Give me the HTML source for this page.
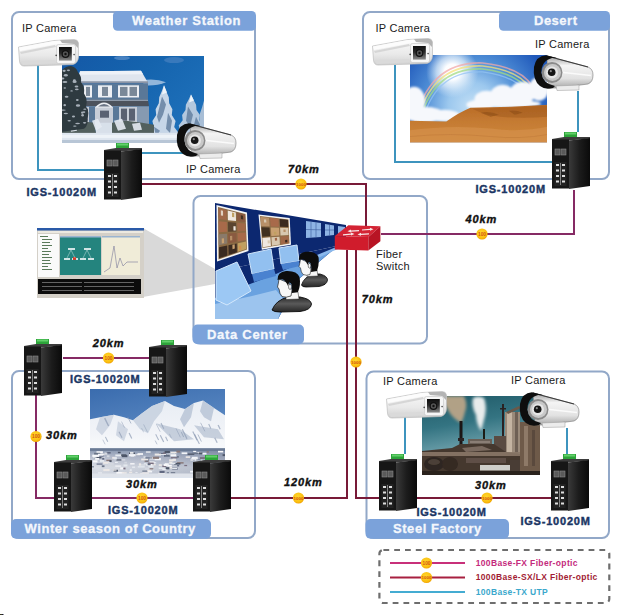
<!DOCTYPE html>
<html><head><meta charset="utf-8">
<style>
html,body{margin:0;padding:0;background:#fff;}
body{width:618px;height:615px;overflow:hidden;position:relative;}
svg{position:absolute;left:0;top:0;display:block;}
text{font-family:"Liberation Sans",sans-serif;}
.cam{font-size:11px;fill:#1a1a1a;letter-spacing:0.25px;}
.tab{font-size:13px;font-weight:bold;fill:#f4f7fc;stroke:#f4f7fc;stroke-width:0.3px;letter-spacing:0.7px;}
.igs{font-size:11px;font-weight:bold;fill:#1b3664;stroke:#1b3664;stroke-width:0.4px;letter-spacing:0.8px;}
.km{font-size:11px;font-weight:bold;font-style:italic;fill:#111;stroke:#111;stroke-width:0.35px;letter-spacing:0.9px;}
.lg{font-size:8.5px;font-weight:bold;letter-spacing:0.35px;}
</style></head><body>
<svg width="618" height="615" viewBox="0 0 618 615">
<defs>
  <linearGradient id="sideG" x1="0" y1="0" x2="1" y2="0">
    <stop offset="0" stop-color="#3a3a3a"/><stop offset="0.5" stop-color="#1c1c1c"/><stop offset="1" stop-color="#0a0a0a"/>
  </linearGradient>
  <linearGradient id="housG" x1="0" y1="0" x2="0" y2="1">
    <stop offset="0" stop-color="#fbfbfb"/><stop offset="0.6" stop-color="#e9e9e9"/><stop offset="1" stop-color="#d0d0d0"/>
  </linearGradient>
  <linearGradient id="bulG" x1="0" y1="0" x2="0" y2="1">
    <stop offset="0" stop-color="#9a9a9a"/><stop offset="0.3" stop-color="#f4f4f4"/><stop offset="0.7" stop-color="#e2e2e2"/><stop offset="1" stop-color="#a8a8a8"/>
  </linearGradient>
  <linearGradient id="suitG" x1="0" y1="0" x2="0" y2="1"><stop offset="0" stop-color="#2a2a2a"/><stop offset="0.45" stop-color="#5a5a5a"/><stop offset="1" stop-color="#262626"/></linearGradient>
  <radialGradient id="badgeG" cx="0.45" cy="0.4" r="0.6">
    <stop offset="0" stop-color="#ffd830"/><stop offset="0.75" stop-color="#fbc010"/><stop offset="1" stop-color="#f0a000"/>
  </radialGradient>

  <!-- industrial switch 38x58 -->
  <g id="sw">
    <rect x="12" y="0" width="13" height="6" fill="#2da43a"/>
    <rect x="13" y="0.5" width="11" height="2" fill="#62d06a"/>
    <polygon points="0,7 12,5 38,5 38,6.5 17,8.5 0,8" fill="#3c3c3c"/>
    <rect x="0" y="7.5" width="17" height="49" fill="#161616"/>
    <polygon points="17,8.5 38,6 38,54 17,57" fill="url(#sideG)"/>
    <rect x="3" y="17" width="5" height="6" fill="#5a5a5a" stroke="#8a8a8a" stroke-width="0.6"/>
    <rect x="9" y="17" width="5" height="6" fill="#5a5a5a" stroke="#8a8a8a" stroke-width="0.6"/>
    <rect x="2.5" y="30" width="12" height="24" fill="#222"/>
    <rect x="4" y="32" width="3" height="2" fill="#ddd"/><rect x="10" y="32" width="3" height="2" fill="#ddd"/>
    <rect x="4" y="37.5" width="3" height="2" fill="#ddd"/><rect x="10" y="37.5" width="3" height="2" fill="#ddd"/>
    <rect x="4" y="43" width="3" height="2" fill="#ddd"/><rect x="10" y="43" width="3" height="2" fill="#ddd"/>
    <rect x="4" y="48.5" width="3" height="2" fill="#ddd"/><rect x="10" y="48.5" width="3" height="2" fill="#ddd"/>
    <line x1="8.5" y1="31" x2="8.5" y2="53" stroke="#9a9a9a" stroke-width="0.8"/>
  </g>

  <!-- box camera 61x27 -->
  <linearGradient id="winG" x1="0" y1="0" x2="0" y2="1">
    <stop offset="0" stop-color="#0e0e0e"/><stop offset="0.45" stop-color="#2a2a2a"/><stop offset="1" stop-color="#8c8c8c"/>
  </linearGradient>
  <g id="boxcam">
    <path d="M0.5,8 L36,1.5 L56,0.5 Q60,0.5 60.5,4 L60.5,18 Q60,24 55,25.5 L42,26 L6,27 Q2,27 1.5,22 Z" fill="url(#housG)" stroke="#bdbdbd" stroke-width="0.7"/>
    <path d="M1,8.5 L36,2 L56,1 L58,4 L38,5 L2,12 Z" fill="#fcfcfc"/>
    <path d="M2,13 L37,6 L38,8 L3,15 Z" fill="#d6d6d6"/>
    <path d="M2,22 L37,21 L38,24 L5,26 Z" fill="#dadada"/>
    <path d="M42,1 L56,0.7 Q60,1 60.3,4 L60,9 L56,5 L44,4 Z" fill="#b4b4b4"/>
    <rect x="38.5" y="5.5" width="19" height="19" rx="2" fill="#f6f6f6" stroke="#c4c4c4" stroke-width="0.6"/>
    <rect x="41" y="8" width="12.8" height="13.6" fill="url(#winG)"/>
    <circle cx="47.5" cy="15" r="3.3" fill="#555" stroke="#111" stroke-width="1.2"/>
    <circle cx="47.5" cy="15" r="1.2" fill="#111"/>
    <circle cx="38.2" cy="16.4" r="0.8" fill="#444"/>
    <circle cx="56.1" cy="15.6" r="0.8" fill="#444"/>
  </g>

  <!-- bullet camera 60x36 -->
  <g id="bulcam">
    <path d="M14,1 L55,12 Q60,14 60,20 Q60,27 55,29 L24,33 L16,33 Z" fill="url(#bulG)" stroke="#777" stroke-width="0.6"/>
    <path d="M14,1 L55,12" stroke="#3a3a3a" stroke-width="1.1" fill="none"/>
    <path d="M26,17 L58,20.5" stroke="#fafafa" stroke-width="1.3" fill="none"/>
    <path d="M13,0.3 Q3,1 1,12 Q-0.5,25 7,31 Q12,35 20,33 L22,31 Q10,29 8.5,18 Q8,6 19,3 L24,3 Z" fill="#0e0e0e"/>
    <circle cx="19" cy="17.5" r="10.5" fill="#8a8a8a"/>
    <circle cx="19.5" cy="17.5" r="8.5" fill="#c8c8c8"/>
    <circle cx="19" cy="17.5" r="6" fill="#e6e6e6"/>
    <circle cx="18.7" cy="17.2" r="3.8" fill="#151515"/>
    <circle cx="17.8" cy="16.2" r="1.1" fill="#888"/>
    <path d="M23,31 L46,30 L46,35 L24,35.5 Z" fill="#ececec" stroke="#999" stroke-width="0.5"/>
  </g>

  <g id="b1000">
    <circle r="5.6" fill="url(#badgeG)"/>
    <text x="0" y="1.6" font-size="4.4" font-weight="bold" text-anchor="middle" fill="#d45410" font-family="Liberation Sans">1000</text>
  </g>
  <g id="b100">
    <circle r="5.6" fill="url(#badgeG)"/>
    <text x="0" y="1.7" font-size="4.8" font-weight="bold" text-anchor="middle" fill="#d45410" font-family="Liberation Sans">100</text>
  </g>
</defs>

<!-- zoom trapezoid -->
<polygon points="143,228 215,269 215,284 143,297" fill="#d9d9d9"/>
<!-- ============ BOXES ============ -->
<g fill="none" stroke="#92a8c8" stroke-width="2">
  <rect x="12" y="12" width="243" height="167" rx="7"/>
  <rect x="363" y="12" width="246" height="167" rx="7"/>
  <rect x="193.5" y="196" width="233.5" height="147.5" rx="7"/>
  <rect x="12" y="371" width="243" height="167" rx="7"/>
  <rect x="366.5" y="371.5" width="242.5" height="166.5" rx="7"/>
</g>

<!-- tabs -->
<g fill="#7ba2da">
  <rect x="113" y="11" width="143" height="19.7" rx="4.5"/>
  <rect x="499" y="11" width="111" height="19.7" rx="4.5"/>
  <rect x="192.5" y="324.5" width="111.5" height="19.8" rx="5"/>
  <rect x="11" y="519" width="200" height="19.8" rx="5"/>
  <rect x="365.5" y="519" width="143.5" height="19.8" rx="5"/>
</g>
<text class="tab" x="132" y="25.2">Weather Station</text>
<text class="tab" x="534" y="25.3" style="letter-spacing:0.5px">Desert</text>
<text class="tab" x="207" y="338.8">Data Center</text>
<text class="tab" x="24.6" y="532.8" style="letter-spacing:0.55px">Winter season of Country</text>
<text class="tab" x="393" y="533.4" style="letter-spacing:0.55px">Steel Factory</text>

<!-- ============ CABLES ============ -->
<g fill="none" stroke-width="2">
  <!-- UTP cyan -->
  <g stroke="#3d94be">
    <polyline points="38,65 38,170 104,170"/>
    <polyline points="142,153 193,153"/>
    <polyline points="395,65 395,162 552,162"/>
    <polyline points="578,91 578,132"/>
    <polyline points="405,417 405,454"/>
    <polyline points="567,428 567,455"/>
  </g>
  <!-- 1000Base maroon -->
  <g stroke="#781a38">
    <polyline points="142,184 366,184 366,226"/>
    <polyline points="347,250 347,498 231,498"/>
    <polyline points="356,250 356,498 380,498"/>
    <polyline points="416,498 551,498"/>
  </g>
  <!-- 100Base-FX magenta -->
  <g stroke="#862a64">
    <polyline points="574,190 574,234 381,234"/>
    <polyline points="63,358 149,358"/>
    <polyline points="36,395 36,498 54,498"/>
    <polyline points="92,498 193,498"/>
  </g>
</g>

<!-- ============ PHOTOS ============ -->
<!-- Weather station photo 142x86 -->
<svg x="62" y="56" width="142" height="87" viewBox="0 0 142 86" preserveAspectRatio="none">
  <defs>
    <linearGradient id="wsSky" x1="0" y1="0" x2="1" y2="0.6">
      <stop offset="0" stop-color="#1458a6"/><stop offset="0.5" stop-color="#1564ae"/><stop offset="1" stop-color="#1e70ba"/>
    </linearGradient>
    <linearGradient id="treeG" x1="0" y1="0" x2="0" y2="1">
      <stop offset="0" stop-color="#d2e0ee"/><stop offset="1" stop-color="#9fb6cf"/>
    </linearGradient>
  </defs>
  <rect width="142" height="86" fill="url(#wsSky)"/>
  <ellipse cx="60" cy="2" rx="8" ry="2" fill="#6a9ad0" opacity="0.6"/>
  <ellipse cx="112" cy="4" rx="10" ry="3" fill="#5a8cc8" opacity="0.5"/>
  <!-- right snowy trees -->
  <polygon points="129.0,38.0 131.3,43.1 134.1,48.2 134.5,53.3 137.9,58.4 137.3,63.6 141.3,68.7 139.8,73.8 144.5,78.9 142.3,84.0 115.7,84.0 113.5,78.9 118.2,73.8 116.7,68.7 120.7,63.6 120.1,58.4 123.5,53.3 123.9,48.2 126.7,43.1" fill="#b4c8de"/>
  <polygon points="142.0,44.0 143.9,50.7 146.2,57.3 146.5,64.0 149.2,70.7 148.7,77.3 152.0,84.0 132.0,84.0 135.3,77.3 134.8,70.7 137.5,64.0 137.8,57.3 140.1,50.7" fill="#a8bed6"/>
  <polygon points="102.0,29.0 104.2,34.9 106.8,40.8 107.2,46.7 110.4,52.6 109.8,58.4 113.6,64.3 112.2,70.2 116.6,76.1 114.5,82.0 89.5,82.0 87.4,76.1 91.8,70.2 90.4,64.3 94.2,58.4 93.6,52.6 96.8,46.7 97.2,40.8 99.8,34.9" fill="#c6d6e8"/>
  <path d="M100,40 L104,48 L101,58 L97,66 L95,60 Z M106,56 L110,64 L108,76 L104,72 Z M126,50 L131,58 L128,70 L124,64 Z M134,60 L138,68 L135,78 L131,72 Z M92,70 L98,74 L94,80 Z" fill="#5f7c9c" opacity="0.8"/>
  <path d="M102,29 L105,36 L100,38 Z M129,38 L132,44 L127,46 Z" fill="#eef4fa"/>
  <rect x="86" y="76" width="56" height="10" fill="#c8d6e6"/>
  <!-- blowing snow -->
  <path d="M80,24 Q94,22 104,26 Q94,30 82,29 Z" fill="#a8c4e2" opacity="0.85"/>
  <!-- roof -->
  <polygon points="18,15 79,14.5 86,26.5 15,27" fill="#dfe5ee"/>
  <polygon points="18,15 79,14.5 81,18 17,18.5" fill="#eef2f8"/>
  <polygon points="15,25 86,25 86,27 15,27" fill="#8a94a6"/>
  <!-- upper siding -->
  <rect x="16" y="27" width="70" height="16" fill="#5a7898"/>
  <g fill="#eef0f4">
    <rect x="22" y="29" width="8" height="12"/>
    <rect x="36" y="29" width="14" height="12"/>
    <rect x="56" y="29" width="21" height="12"/>
  </g>
  <g fill="#7a8898">
    <rect x="40" y="30.5" width="6" height="9"/>
    <rect x="58" y="30.5" width="7.5" height="9"/>
    <rect x="67.5" y="30.5" width="7.5" height="9"/>
    <rect x="24" y="30.5" width="4" height="9"/>
  </g>
  <!-- porch band -->
  <polygon points="14,43 86,43 87,50 13,50" fill="#4c525c"/>
  <polygon points="14,43 86,43 86,44.5 14,44.5" fill="#8e9aaa"/>
  <!-- lower floor -->
  <rect x="13" y="50" width="74" height="18" fill="#c8ced8"/>
  <rect x="27" y="50" width="6" height="18" fill="#5a7898"/>
  <rect x="51" y="50" width="6" height="18" fill="#5a7898"/>
  <rect x="75" y="50" width="12" height="18" fill="#5a7898" opacity="0.6"/>
  <g fill="#5a6272">
    <rect x="13" y="52" width="6" height="12"/><rect x="20" y="52" width="6" height="12"/>
    <rect x="59" y="52" width="6" height="12"/><rect x="67" y="52" width="6" height="12"/>
    <rect x="38" y="54" width="9" height="7"/>
  </g>
  <path d="M33,51 Q42,41 51,51 Z" fill="#eef0f4"/>
  <path d="M36,50 Q42,45 48,50 Z" fill="#6a7484"/>
  <!-- bushes -->
  <path d="M0,66 L14,64 L33,66 L34,76 L0,77 Z M50,66 L64,64 L80,66 L92,68 L92,76 L50,76 Z" fill="#52605e"/>
  <path d="M33,66 L50,66 L50,76 L34,76 Z" fill="#d8e0ea"/>
  <path d="M30,64 L36,62 L40,70 L34,74 Z M52,64 L60,62 L64,72 L56,74 Z M70,67 L78,66 L80,73 L72,74 Z M8,70 L14,69 L15,74 L9,75 Z" fill="#e4eaf2" opacity="0.9"/>
  <!-- left dark tree -->
  <path d="M0,14 Q4,10 9,10 Q14,11 16,16 Q20,20 19,26 Q23,30 22,37 Q26,43 24,50 Q28,56 25,62 Q27,68 22,72 L0,75 Z" fill="#2e3a40"/>
  <g fill="#c4ccd6" opacity="0.8"><ellipse cx="16.0" cy="48.9" rx="2.2" ry="1.2"/><ellipse cx="22.0" cy="55.4" rx="1.3" ry="0.9"/><ellipse cx="15.6" cy="66.8" rx="2.4" ry="0.7"/><ellipse cx="4.6" cy="40.3" rx="1.9" ry="0.9"/><ellipse cx="2.1" cy="14.7" rx="1.6" ry="1.1"/><ellipse cx="3.8" cy="56.9" rx="2.2" ry="0.7"/><ellipse cx="2.7" cy="48.6" rx="1.3" ry="1.1"/><ellipse cx="2.9" cy="25.7" rx="2.5" ry="1.1"/><ellipse cx="14.5" cy="30.2" rx="1.9" ry="1.0"/><ellipse cx="12.6" cy="25.5" rx="2.1" ry="1.2"/><ellipse cx="7.2" cy="64.0" rx="1.7" ry="0.7"/><ellipse cx="0.8" cy="22.2" rx="1.6" ry="1.0"/><ellipse cx="6.4" cy="14.2" rx="1.7" ry="0.8"/><ellipse cx="11.5" cy="59.8" rx="1.6" ry="0.9"/><ellipse cx="1.3" cy="53.5" rx="2.5" ry="0.6"/><ellipse cx="20.3" cy="56.0" rx="1.3" ry="1.1"/><ellipse cx="9.6" cy="34.5" rx="1.3" ry="0.6"/><ellipse cx="12.4" cy="24.1" rx="1.5" ry="1.1"/><ellipse cx="22.6" cy="66.1" rx="1.7" ry="0.8"/><ellipse cx="15.3" cy="43.4" rx="1.4" ry="1.0"/><ellipse cx="20.6" cy="58.6" rx="1.3" ry="1.2"/><ellipse cx="3.8" cy="19.1" rx="2.0" ry="1.2"/><ellipse cx="14.8" cy="33.0" rx="1.9" ry="0.8"/><ellipse cx="2.8" cy="31.7" rx="1.3" ry="0.7"/><ellipse cx="22.8" cy="52.6" rx="1.5" ry="0.6"/><ellipse cx="12.8" cy="69.3" rx="1.8" ry="0.7"/></g>
  <!-- ground snow -->
  <rect x="0" y="76" width="142" height="10" fill="#dfe7f0"/>
  <rect x="0" y="78" width="142" height="3" fill="#eef3f8"/>
  <rect x="0" y="83" width="142" height="3" fill="#b8c6d6"/>
</svg>

<!-- Desert photo 136x88 -->
<svg x="410" y="55" width="137" height="87.5" viewBox="0 0 136 88" preserveAspectRatio="none">
  <defs>
    <radialGradient id="dSkyR" cx="62" cy="52" r="80" gradientUnits="userSpaceOnUse">
      <stop offset="0" stop-color="#c4e0f6"/><stop offset="0.3" stop-color="#9cc8ee"/><stop offset="0.6" stop-color="#4f8ed6"/><stop offset="1" stop-color="#1f58ba"/>
    </radialGradient>
    <radialGradient id="dSun" cx="0.5" cy="0.5" r="0.5">
      <stop offset="0" stop-color="#ffffff"/><stop offset="0.3" stop-color="#fcfdff"/><stop offset="0.6" stop-color="#e0eefa" stop-opacity="0.75"/><stop offset="1" stop-color="#cfe2f6" stop-opacity="0"/>
    </radialGradient>
    <linearGradient id="dSand" x1="0" y1="0" x2="0" y2="1">
      <stop offset="0" stop-color="#b86a26"/><stop offset="0.4" stop-color="#c47a32"/><stop offset="1" stop-color="#d08a3e"/>
    </linearGradient>
    <filter id="dblur" x="-20%" y="-20%" width="140%" height="140%"><feGaussianBlur stdDeviation="1.2"/></filter>
    <filter id="dblur2" x="-20%" y="-20%" width="140%" height="140%"><feGaussianBlur stdDeviation="0.7"/></filter>
  </defs>
  <rect width="136" height="88" fill="url(#dSkyR)"/>
  <circle cx="42" cy="17" r="26" fill="url(#dSun)"/>
  <g filter="url(#dblur2)" opacity="0.75">
    <path d="M4,70 Q18,6 72,8 Q110,12 122,32" fill="none" stroke="#f2a8a8" stroke-width="1.6"/>
    <path d="M6.5,70 Q20,9 72,11 Q108,15 120,34" fill="none" stroke="#f4e27a" stroke-width="1.6"/>
    <path d="M9,70 Q22,12 72,14 Q106,18 118,36" fill="none" stroke="#a4dc84" stroke-width="1.6"/>
    <path d="M11.5,70 Q24,15 72,17 Q104,21 116,38" fill="none" stroke="#94c4f4" stroke-width="1.4"/>
  </g>
  <!-- clouds -->
  <g fill="#f6f8fc" filter="url(#dblur)">
    <ellipse cx="4" cy="46" rx="11" ry="14"/>
    <ellipse cx="14" cy="60" rx="20" ry="8"/>
    <ellipse cx="34" cy="61" rx="16" ry="6"/>
    <ellipse cx="76" cy="44" rx="12" ry="8"/>
    <ellipse cx="92" cy="40" rx="12" ry="10"/>
    <ellipse cx="112" cy="38" rx="13" ry="11"/>
    <ellipse cx="128" cy="34" rx="10" ry="12"/>
    <ellipse cx="70" cy="50" rx="14" ry="5"/>
    <ellipse cx="100" cy="49" rx="30" ry="4"/>
  </g>
  <!-- sand -->
  <g filter="url(#dblur2)">
  <path d="M-2,66 L36,67 Q48,58 60,53 L100,52 L138,50 L138,90 L-2,90 Z" fill="url(#dSand)"/>
  <path d="M62,54 L100,53 L136,51 L136,62 Q110,64 90,62 Q72,60 62,54 Z" fill="#a05a1e" opacity="0.5"/>
  <path d="M70,58 Q80,56 88,60 L80,62 Z M98,56 Q106,55 112,58 L104,60 Z" fill="#8a4c18" opacity="0.55"/>
  <path d="M-2,76 Q40,70 80,74 Q110,78 138,72 L138,90 L-2,90 Z" fill="#d4904a" opacity="0.7"/>
  <path d="M0,82 Q40,78 80,82 Q110,85 136,80" fill="none" stroke="#b87434" stroke-width="0.8" opacity="0.5"/>
  </g>
</svg>

<!-- Winter mountain photo 135x88 -->
<svg x="90" y="389" width="135" height="88.5" viewBox="0 0 135 88" preserveAspectRatio="none">
  <defs>
    <linearGradient id="mSky" x1="0" y1="0" x2="0.3" y2="1">
      <stop offset="0" stop-color="#3a6cae"/><stop offset="0.6" stop-color="#5a88c2"/><stop offset="1" stop-color="#86a6d0"/>
    </linearGradient>
    <linearGradient id="mTown" x1="0" y1="0" x2="0" y2="1">
      <stop offset="0" stop-color="#8494ae"/><stop offset="0.3" stop-color="#b8bece"/><stop offset="0.65" stop-color="#dcdfe6"/><stop offset="1" stop-color="#ccd2dc"/>
    </linearGradient>
    <linearGradient id="mSnow" x1="0" y1="0" x2="0" y2="1">
      <stop offset="0" stop-color="#e8edf4"/><stop offset="0.7" stop-color="#f2f4f8"/><stop offset="1" stop-color="#fafbfc"/>
    </linearGradient>
    <linearGradient id="mTownH" x1="0" y1="0" x2="1" y2="0"><stop offset="0" stop-color="#5a6a88" stop-opacity="0"/><stop offset="1" stop-color="#4a5a7a" stop-opacity="0.3"/></linearGradient>
    <filter id="mblur" x="-5%" y="-5%" width="110%" height="110%"><feGaussianBlur stdDeviation="0.5"/></filter>
  </defs>
  <rect width="135" height="88" fill="url(#mSky)"/>
  <g filter="url(#mblur)">
  <path d="M0,30 L10,28 L24,25.5 L34,28 L43,31 L52,24 L62,17 L75,12 L84,17 L95,20 L104,14 L113,11.5 L124,19 L135,26 L135,60 L0,60 Z" fill="url(#mSnow)"/>
  <path d="M43,31 L52,24 L62,17 L75,12 L72,22 L64,32 L58,44 L50,40 Z" fill="#c6d0de" opacity="0.85"/>
  <path d="M95,20 L104,14 L101,28 L94,38 L90,30 Z M113,11.5 L124,19 L121,32 L114,28 L110,22 Z" fill="#b8c4d6" opacity="0.85"/>
  <path d="M10,28 L24,25.5 L20,36 L12,46 L6,40 Z M28,32 L38,40 L34,52 L26,46 Z" fill="#c4cedc" opacity="0.75"/>
  <path d="M66,34 L90,40 L104,50 L84,52 Z M104,36 L128,40 L134,50 L114,48 Z" fill="#a8b6ca" opacity="0.6"/>
  <path d="M79.4,44.6 l2.1,4.3" stroke="#8e9cb4" stroke-width="0.7" opacity="0.7"/><path d="M37.9,28.1 l3.1,6.2" stroke="#8e9cb4" stroke-width="0.9" opacity="0.7"/><path d="M128.1,35.8 l2.1,4.2" stroke="#8e9cb4" stroke-width="1.3" opacity="0.7"/><path d="M31.5,32.4 l3.0,6.0" stroke="#8e9cb4" stroke-width="0.7" opacity="0.7"/><path d="M39.1,43.7 l2.7,5.5" stroke="#8e9cb4" stroke-width="1.2" opacity="0.7"/><path d="M15.4,47.6 l2.4,4.9" stroke="#8e9cb4" stroke-width="1.1" opacity="0.7"/><path d="M53.6,35.2 l3.9,7.8" stroke="#8e9cb4" stroke-width="0.7" opacity="0.7"/><path d="M124.7,48.5 l2.5,4.9" stroke="#8e9cb4" stroke-width="1.3" opacity="0.7"/><path d="M102.8,42.3 l4.3,8.6" stroke="#8e9cb4" stroke-width="1.2" opacity="0.7"/><path d="M66.3,34.8 l3.9,7.7" stroke="#8e9cb4" stroke-width="0.7" opacity="0.7"/><path d="M107.9,45.2 l3.5,7.1" stroke="#8e9cb4" stroke-width="0.9" opacity="0.7"/><path d="M92.3,40.1 l4.7,9.5" stroke="#8e9cb4" stroke-width="1.2" opacity="0.7"/><path d="M75.6,47.5 l2.0,4.1" stroke="#8e9cb4" stroke-width="1.1" opacity="0.7"/><path d="M104.5,45.1 l4.9,9.7" stroke="#8e9cb4" stroke-width="1.1" opacity="0.7"/><path d="M14.7,29.0 l3.9,7.8" stroke="#8e9cb4" stroke-width="1.4" opacity="0.7"/><path d="M51.5,38.8 l2.2,4.3" stroke="#8e9cb4" stroke-width="0.6" opacity="0.7"/><path d="M71.0,33.9 l2.8,5.6" stroke="#8e9cb4" stroke-width="1.0" opacity="0.7"/><path d="M12.8,50.4 l4.7,9.4" stroke="#8e9cb4" stroke-width="0.7" opacity="0.7"/><path d="M70.3,45.9 l3.4,6.8" stroke="#8e9cb4" stroke-width="1.2" opacity="0.7"/><path d="M110.6,33.6 l4.3,8.5" stroke="#8e9cb4" stroke-width="0.8" opacity="0.7"/><path d="M85.9,39.0 l4.5,9.1" stroke="#8e9cb4" stroke-width="0.7" opacity="0.7"/><path d="M118.7,34.9 l2.1,4.3" stroke="#8e9cb4" stroke-width="1.1" opacity="0.7"/><path d="M29.0,42.4 l3.0,6.0" stroke="#8e9cb4" stroke-width="1.1" opacity="0.7"/><path d="M91.3,42.9 l2.4,4.8" stroke="#8e9cb4" stroke-width="1.0" opacity="0.7"/><path d="M65.2,51.3 l2.3,4.6" stroke="#8e9cb4" stroke-width="0.8" opacity="0.7"/><path d="M65.7,45.0 l2.9,5.7" stroke="#8e9cb4" stroke-width="1.0" opacity="0.7"/>
  <rect x="0" y="55" width="135" height="5" fill="#f6f8fb"/>
  <rect x="0" y="59" width="135" height="29" fill="url(#mTown)"/>
  <rect x="0" y="59" width="135" height="2.5" fill="#6a7a94"/>
  <rect x="0" y="61" width="135" height="25" fill="url(#mTownH)"/>
  <rect x="59.1" y="74.4" width="6.6" height="1.6" fill="#ece8e6"/><rect x="23.6" y="80.3" width="4.4" height="1.8" fill="#4e5668"/><rect x="39.0" y="63.2" width="6.0" height="1.9" fill="#4e5668"/><rect x="128.2" y="76.7" width="5.1" height="1.2" fill="#8a7a7a"/><rect x="6.5" y="61.9" width="6.4" height="1.8" fill="#f8f8fa"/><rect x="57.5" y="81.2" width="4.6" height="1.8" fill="#f2f4f8"/><rect x="59.7" y="67.7" width="7.0" height="2.3" fill="#f8f8fa"/><rect x="40.6" y="66.5" width="3.4" height="1.1" fill="#d4d8e0"/><rect x="12.6" y="68.0" width="2.3" height="1.0" fill="#e4e8ee"/><rect x="26.3" y="82.8" width="4.3" height="2.3" fill="#f2f4f8"/><rect x="74.4" y="65.8" width="5.4" height="1.4" fill="#5e6a80"/><rect x="128.2" y="79.2" width="2.6" height="1.3" fill="#5e6a80"/><rect x="60.8" y="72.7" width="5.4" height="1.2" fill="#e4e8ee"/><rect x="54.6" y="70.2" width="4.0" height="2.3" fill="#8a7a7a"/><rect x="39.1" y="82.2" width="3.1" height="1.5" fill="#ece8e6"/><rect x="11.5" y="84.7" width="3.1" height="1.3" fill="#f8f8fa"/><rect x="110.1" y="70.3" width="2.4" height="1.3" fill="#f2f4f8"/><rect x="79.2" y="69.9" width="4.3" height="2.2" fill="#ece8e6"/><rect x="16.3" y="70.3" width="5.1" height="1.4" fill="#8a7a7a"/><rect x="31.7" y="65.6" width="5.7" height="2.2" fill="#4e5668"/><rect x="117.1" y="75.5" width="4.1" height="1.1" fill="#7a7080"/><rect x="30.2" y="77.9" width="3.3" height="2.1" fill="#f8f8fa"/><rect x="68.2" y="83.3" width="6.9" height="1.2" fill="#ece8e6"/><rect x="80.9" y="67.7" width="6.6" height="1.3" fill="#7a7080"/><rect x="53.5" y="67.0" width="2.2" height="1.4" fill="#e4e8ee"/><rect x="10.4" y="64.3" width="4.3" height="1.4" fill="#ece8e6"/><rect x="76.9" y="64.4" width="2.2" height="1.0" fill="#f8f8fa"/><rect x="128.0" y="61.5" width="5.2" height="1.6" fill="#f8f8fa"/><rect x="16.4" y="62.7" width="4.3" height="1.5" fill="#606880"/><rect x="97.5" y="64.1" width="6.8" height="1.4" fill="#4e5668"/><rect x="119.6" y="81.9" width="4.1" height="2.0" fill="#ece8e6"/><rect x="-0.0" y="76.9" width="3.9" height="1.0" fill="#5e6a80"/><rect x="84.3" y="84.8" width="6.4" height="1.9" fill="#ece8e6"/><rect x="59.8" y="72.1" width="4.7" height="1.7" fill="#f8f8fa"/><rect x="79.2" y="72.5" width="3.2" height="1.9" fill="#ece8e6"/><rect x="87.1" y="72.7" width="6.5" height="1.5" fill="#8a7a7a"/><rect x="25.3" y="65.1" width="6.5" height="1.9" fill="#e4e8ee"/><rect x="42.1" y="77.0" width="3.0" height="1.6" fill="#e4e8ee"/><rect x="116.8" y="70.2" width="4.9" height="1.4" fill="#4e5668"/><rect x="45.4" y="82.5" width="2.2" height="1.1" fill="#e4e8ee"/><rect x="13.2" y="72.3" width="6.6" height="2.1" fill="#ece8e6"/><rect x="64.7" y="68.6" width="6.2" height="2.3" fill="#f2f4f8"/><rect x="109.9" y="67.7" width="5.0" height="1.9" fill="#7a7080"/><rect x="39.7" y="80.0" width="2.1" height="1.2" fill="#f2f4f8"/><rect x="101.8" y="67.4" width="5.9" height="2.0" fill="#f2f4f8"/><rect x="58.3" y="76.1" width="5.3" height="2.0" fill="#e4e8ee"/><rect x="24.9" y="72.4" width="2.9" height="1.0" fill="#f2f4f8"/><rect x="22.2" y="67.5" width="3.7" height="1.9" fill="#ece8e6"/><rect x="132.6" y="64.8" width="6.2" height="1.9" fill="#4e5668"/><rect x="123.9" y="78.3" width="2.6" height="1.6" fill="#f2f4f8"/><rect x="48.9" y="74.7" width="6.4" height="2.0" fill="#d4d8e0"/><rect x="42.1" y="84.6" width="2.5" height="2.1" fill="#f2f4f8"/><rect x="26.8" y="82.6" width="6.9" height="2.3" fill="#f8f8fa"/><rect x="33.4" y="78.2" width="2.1" height="1.7" fill="#7a7080"/><rect x="72.3" y="79.4" width="4.4" height="1.0" fill="#f2f4f8"/><rect x="55.9" y="61.8" width="4.7" height="1.9" fill="#d4d8e0"/><rect x="18.1" y="73.4" width="5.6" height="2.1" fill="#d4d8e0"/><rect x="76.2" y="77.5" width="5.8" height="1.6" fill="#ece8e6"/><rect x="84.2" y="73.5" width="6.2" height="1.7" fill="#4e5668"/><rect x="126.9" y="81.9" width="5.0" height="1.4" fill="#8a7a7a"/><rect x="68.8" y="74.8" width="3.0" height="1.7" fill="#ece8e6"/><rect x="48.9" y="73.9" width="2.2" height="2.2" fill="#ece8e6"/><rect x="14.5" y="63.2" width="2.8" height="2.2" fill="#d4d8e0"/><rect x="34.3" y="72.4" width="2.6" height="1.6" fill="#d4d8e0"/><rect x="68.9" y="63.6" width="4.1" height="1.0" fill="#606880"/><rect x="103.2" y="61.5" width="3.0" height="1.3" fill="#f8f8fa"/><rect x="95.7" y="66.9" width="4.5" height="1.6" fill="#ece8e6"/><rect x="82.2" y="78.2" width="5.5" height="2.1" fill="#606880"/><rect x="53.8" y="73.7" width="2.8" height="1.3" fill="#e4e8ee"/><rect x="69.5" y="81.4" width="5.1" height="2.1" fill="#606880"/><rect x="82.8" y="69.3" width="2.9" height="1.8" fill="#e4e8ee"/><rect x="27.4" y="85.0" width="6.4" height="1.2" fill="#606880"/><rect x="9.9" y="70.3" width="4.2" height="2.2" fill="#e4e8ee"/><rect x="25.1" y="76.1" width="6.0" height="1.1" fill="#f8f8fa"/><rect x="121.0" y="84.2" width="2.6" height="1.7" fill="#ece8e6"/><rect x="132.8" y="81.0" width="6.0" height="1.6" fill="#8a7a7a"/><rect x="80.8" y="82.7" width="4.4" height="1.2" fill="#6a7488"/><rect x="111.4" y="84.8" width="6.6" height="1.1" fill="#606880"/><rect x="60.4" y="79.4" width="3.6" height="1.6" fill="#d4d8e0"/><rect x="26.4" y="70.0" width="5.2" height="1.1" fill="#4e5668"/><rect x="59.3" y="78.7" width="4.0" height="1.3" fill="#8a7a7a"/><rect x="105.0" y="68.8" width="2.4" height="2.1" fill="#d4d8e0"/><rect x="74.9" y="65.6" width="4.9" height="1.4" fill="#f8f8fa"/><rect x="121.0" y="78.9" width="5.9" height="2.1" fill="#7a7080"/><rect x="116.8" y="77.7" width="5.8" height="2.0" fill="#606880"/><rect x="23.0" y="80.1" width="3.5" height="1.1" fill="#ece8e6"/><rect x="4.7" y="67.6" width="6.8" height="1.4" fill="#4e5668"/><rect x="74.9" y="73.8" width="3.9" height="2.3" fill="#f2f4f8"/><rect x="100.8" y="84.5" width="2.1" height="1.8" fill="#f8f8fa"/><rect x="57.9" y="73.1" width="5.8" height="1.8" fill="#7a7080"/><rect x="31.9" y="82.7" width="4.8" height="1.7" fill="#ece8e6"/><rect x="112.3" y="63.4" width="4.2" height="1.8" fill="#f2f4f8"/><rect x="50.2" y="83.5" width="3.9" height="2.3" fill="#ece8e6"/><rect x="80.5" y="62.4" width="6.7" height="1.5" fill="#ece8e6"/><rect x="40.2" y="73.7" width="4.4" height="1.4" fill="#f8f8fa"/><rect x="1.6" y="79.5" width="4.9" height="1.8" fill="#d4d8e0"/><rect x="5.1" y="68.6" width="4.0" height="1.8" fill="#f8f8fa"/><rect x="7.9" y="82.7" width="4.1" height="1.6" fill="#e4e8ee"/><rect x="4.1" y="63.4" width="6.1" height="2.2" fill="#6a7488"/><rect x="79.5" y="63.8" width="5.1" height="1.6" fill="#5e6a80"/><rect x="46.2" y="64.7" width="3.8" height="1.2" fill="#ece8e6"/><rect x="33.4" y="75.0" width="4.1" height="2.0" fill="#e4e8ee"/><rect x="126.6" y="78.6" width="3.2" height="1.1" fill="#ece8e6"/><rect x="82.4" y="69.6" width="3.4" height="1.9" fill="#ece8e6"/><rect x="23.7" y="67.7" width="3.2" height="2.2" fill="#e4e8ee"/><rect x="116.6" y="61.9" width="2.3" height="1.4" fill="#8a7a7a"/><rect x="3.1" y="66.3" width="3.4" height="2.0" fill="#e4e8ee"/><rect x="72.3" y="76.1" width="3.9" height="1.6" fill="#7a7080"/><rect x="64.7" y="64.2" width="6.3" height="2.0" fill="#ece8e6"/><rect x="111.1" y="79.5" width="4.2" height="2.0" fill="#6a7488"/><rect x="47.8" y="76.7" width="6.9" height="1.4" fill="#e4e8ee"/><rect x="55.7" y="69.9" width="2.5" height="2.1" fill="#5e6a80"/><rect x="56.3" y="74.6" width="6.1" height="1.6" fill="#f2f4f8"/><rect x="8.3" y="66.1" width="5.3" height="1.1" fill="#606880"/><rect x="101.2" y="68.9" width="6.4" height="1.3" fill="#f8f8fa"/><rect x="47.5" y="63.8" width="5.5" height="1.7" fill="#f8f8fa"/><rect x="57.1" y="80.3" width="3.5" height="1.4" fill="#ece8e6"/><rect x="31.5" y="69.7" width="3.8" height="1.5" fill="#d4d8e0"/><rect x="105.5" y="78.7" width="3.8" height="1.5" fill="#8a7a7a"/><rect x="74.0" y="65.2" width="5.8" height="2.1" fill="#5e6a80"/><rect x="27.9" y="62.4" width="2.8" height="1.4" fill="#4e5668"/><rect x="6.6" y="74.1" width="5.9" height="1.1" fill="#606880"/><rect x="12.2" y="68.5" width="2.1" height="1.8" fill="#606880"/><rect x="55.0" y="78.1" width="4.4" height="2.2" fill="#d4d8e0"/><rect x="51.2" y="69.1" width="6.8" height="1.9" fill="#ece8e6"/><rect x="106.6" y="62.7" width="5.1" height="1.1" fill="#f8f8fa"/><rect x="113.2" y="80.3" width="6.2" height="2.2" fill="#f2f4f8"/><rect x="68.7" y="78.0" width="6.0" height="1.5" fill="#e4e8ee"/><rect x="31.2" y="64.9" width="5.2" height="1.9" fill="#4e5668"/><rect x="55.4" y="68.0" width="6.8" height="1.1" fill="#5e6a80"/><rect x="39.0" y="64.7" width="6.6" height="2.2" fill="#f2f4f8"/><rect x="76.8" y="82.8" width="2.2" height="1.1" fill="#6a7488"/><rect x="77.4" y="75.4" width="4.4" height="1.7" fill="#f8f8fa"/><rect x="52.3" y="82.9" width="6.7" height="1.8" fill="#ece8e6"/><rect x="62.7" y="67.3" width="6.4" height="2.2" fill="#8a7a7a"/><rect x="102.2" y="63.2" width="6.3" height="1.5" fill="#6a7488"/><rect x="106.2" y="70.2" width="4.6" height="1.7" fill="#5e6a80"/><rect x="86.8" y="66.7" width="2.1" height="1.6" fill="#6a7488"/><rect x="94.3" y="75.5" width="2.8" height="1.2" fill="#7a7080"/><rect x="120.6" y="80.4" width="2.7" height="2.0" fill="#ece8e6"/><rect x="70.2" y="64.6" width="5.9" height="1.0" fill="#e4e8ee"/><rect x="109.0" y="63.0" width="3.3" height="1.9" fill="#4e5668"/><rect x="91.6" y="63.0" width="5.7" height="1.7" fill="#f2f4f8"/><rect x="104.6" y="71.0" width="6.6" height="1.1" fill="#e4e8ee"/><rect x="3.0" y="70.9" width="4.5" height="2.2" fill="#f8f8fa"/><rect x="40.0" y="62.8" width="3.5" height="1.6" fill="#f8f8fa"/><rect x="8.0" y="64.4" width="5.3" height="1.9" fill="#f2f4f8"/><rect x="86.3" y="61.3" width="3.9" height="1.9" fill="#8a7a7a"/><rect x="13.3" y="79.5" width="6.3" height="2.1" fill="#ece8e6"/><rect x="18.5" y="76.1" width="6.7" height="2.0" fill="#d4d8e0"/><rect x="73.0" y="63.1" width="2.9" height="1.5" fill="#7a7080"/><rect x="125.6" y="74.5" width="5.6" height="1.4" fill="#f2f4f8"/><rect x="11.8" y="75.9" width="2.7" height="1.8" fill="#6a7488"/><rect x="52.3" y="81.1" width="5.0" height="1.1" fill="#6a7488"/><rect x="131.3" y="71.4" width="5.9" height="1.4" fill="#ece8e6"/><rect x="16.8" y="65.9" width="2.7" height="1.9" fill="#d4d8e0"/><rect x="82.1" y="78.4" width="5.1" height="1.4" fill="#e4e8ee"/><rect x="87.1" y="75.6" width="2.1" height="1.4" fill="#606880"/><rect x="57.6" y="74.4" width="3.0" height="1.4" fill="#5e6a80"/><rect x="80.5" y="64.8" width="5.8" height="2.2" fill="#f8f8fa"/><rect x="80.6" y="73.3" width="4.9" height="1.3" fill="#e4e8ee"/><rect x="74.6" y="61.6" width="5.3" height="2.0" fill="#4e5668"/><rect x="75.8" y="77.7" width="3.6" height="2.2" fill="#4e5668"/><rect x="117.2" y="71.9" width="5.6" height="1.3" fill="#ece8e6"/><rect x="73.7" y="74.4" width="3.3" height="2.2" fill="#f8f8fa"/><rect x="79.2" y="63.9" width="6.1" height="1.4" fill="#e4e8ee"/><rect x="100.4" y="69.7" width="2.8" height="1.8" fill="#d4d8e0"/><rect x="2.3" y="65.3" width="6.9" height="2.2" fill="#f8f8fa"/><rect x="100.1" y="81.3" width="6.5" height="1.8" fill="#f2f4f8"/><rect x="19.4" y="70.9" width="2.2" height="1.7" fill="#4e5668"/>
  <rect x="0" y="84" width="135" height="4" fill="#dfe3ea"/>
  </g>
</svg>

<!-- Steel factory photo 118x79 -->
<svg x="422" y="396" width="118" height="79" viewBox="0 0 118 79">
  <defs>
    <linearGradient id="fSky" x1="0" y1="0" x2="0.25" y2="1">
      <stop offset="0" stop-color="#1e5866"/><stop offset="0.4" stop-color="#347482"/><stop offset="0.75" stop-color="#72a4ae"/><stop offset="1" stop-color="#94bcc2"/>
    </linearGradient>
    <filter id="blur1" x="-30%" y="-30%" width="160%" height="160%"><feGaussianBlur stdDeviation="1.6"/></filter>
    <filter id="blur05" x="-10%" y="-10%" width="120%" height="120%"><feGaussianBlur stdDeviation="0.6"/></filter>
  </defs>
  <rect width="118" height="79" fill="url(#fSky)"/>
  <!-- smoke -->
  <g filter="url(#blur1)">
    <path d="M20,0 L42,0 Q46,8 43,16 Q41,24 39,27 Q30,22 26,14 Q21,7 20,0 Z" fill="#b8a488" opacity="0.95"/>
    <path d="M51,2 Q56,-1 62,2 Q65,10 63,20 Q61,28 59,35 Q54,27 54,19 Q49,10 51,2 Z" fill="#e8ecec"/>
  </g>
  <g filter="url(#blur05)">
  <!-- chimneys -->
  <rect x="37.5" y="25" width="3" height="28" fill="#1a1614"/>
  <rect x="36" y="42" width="6" height="3" fill="#2a2420"/>
  <rect x="61" y="33" width="2" height="16" fill="#1e1a18"/>
  <rect x="80" y="8" width="2" height="36" fill="#2a2420"/>
  <rect x="78" y="12" width="6" height="1.5" fill="#2a2420"/>
  <!-- buildings -->
  <rect x="46" y="43" width="24" height="11" fill="#6a5e56"/>
  <rect x="48" y="45" width="20" height="2" fill="#8a7e74"/>
  <rect x="83" y="16" width="15" height="52" fill="#9a8a7a"/>
  <rect x="85" y="16" width="5" height="52" fill="#c4b4a2"/>
  <rect x="93" y="16" width="3" height="52" fill="#6e6054"/>
  <polygon points="84,16 97,10 99,12 86,18" fill="#6a5848"/>
  <rect x="98" y="26" width="20" height="53" fill="#6e5a4a"/>
  <rect x="102" y="30" width="4" height="40" fill="#8e7a68"/>
  <rect x="110" y="34" width="3" height="36" fill="#5a4a3e"/>
  <rect x="72" y="40" width="12" height="30" fill="#5a4c42"/>
  <!-- base -->
  <path d="M0,55 L30,52 L38,48 L72,48 L84,56 L98,58 L98,79 L0,79 Z" fill="#45382f"/>
  <rect x="0" y="56" width="98" height="4" fill="#8a7868" opacity="0.9"/>
  <path d="M40,52 L60,50 L70,54 L44,56 Z" fill="#7a6a5e"/>
  <ellipse cx="12" cy="68" rx="10" ry="7" fill="#2e2620"/>
  <ellipse cx="28" cy="68" rx="8" ry="7" fill="#342a24"/>
  <ellipse cx="12" cy="66" rx="6" ry="3" fill="#5a4c42" opacity="0.7"/>
  <rect x="44" y="62" width="40" height="5" fill="#5e5046"/>
  <rect x="58" y="69" width="30" height="5.5" fill="#cfcfca"/>
  <rect x="88" y="64" width="10" height="12" fill="#4a3e34"/>
  <rect x="0" y="75" width="118" height="4" fill="#2a221c"/>
  </g>
</svg>

<!-- Data center illustration -->
<g>
  <polygon points="215,203 346,225 346,244 215,272" fill="#0c2870"/>
  <!-- video walls -->
  <polygon points="216.5,205 247,212.5 248.5,251 217,261.5" fill="#f4f4f4"/>
  <polygon points="218,207 245.5,214 247,249.5 218.5,259.5" fill="#8a6a44"/>
  <g><polygon points="218.6,208.2 226.6,210.1 226.8,220.0 218.7,219.1" fill="#a06848"/><polygon points="220.8,210.3 223.0,210.8 223.1,215.7 220.9,215.4" fill="#e0d0c0"/><polygon points="218.7,221.2 226.8,221.9 227.0,231.8 218.8,232.2" fill="#a86a4a"/><polygon points="218.8,234.3 227.0,233.7 227.2,243.6 218.9,245.2" fill="#8a7a6a"/><polygon points="221.7,238.4 224.0,238.2 224.1,243.1 221.8,243.5" fill="#c8a070"/><polygon points="219.0,247.3 227.2,245.5 227.4,255.4 219.1,258.3" fill="#3a2a20"/><polygon points="227.7,210.4 235.8,212.4 236.0,221.1 227.9,220.2" fill="#f0e8e0"/><polygon points="232.0,212.5 234.2,213.0 234.3,217.3 232.1,216.9" fill="#c0a060"/><polygon points="227.9,222.0 236.1,222.7 236.3,231.4 228.1,231.8" fill="#5a4430"/><polygon points="233.4,226.2 235.6,226.2 235.7,230.4 233.5,230.5" fill="#f0e8e0"/><polygon points="228.2,233.6 236.4,233.1 236.6,241.8 228.3,243.4" fill="#8a5a40"/><polygon points="230.0,236.0 232.2,235.8 232.3,240.2 230.1,240.6" fill="#b89068"/><polygon points="228.4,245.3 236.7,243.5 236.9,252.2 228.6,255.0" fill="#3a2a20"/><polygon points="232.4,244.8 234.7,244.3 234.8,248.6 232.5,249.2" fill="#c8a070"/><polygon points="236.9,212.6 245.0,214.6 245.3,222.1 237.2,221.2" fill="#8a5a40"/><polygon points="240.8,215.3 243.0,215.7 243.2,219.4 241.0,219.1" fill="#403020"/><polygon points="237.2,222.8 245.3,223.5 245.7,231.1 237.5,231.4" fill="#a06848"/><polygon points="237.5,233.0 245.7,232.5 246.0,240.0 237.7,241.6" fill="#a86a4a"/><polygon points="237.8,243.2 246.1,241.5 246.4,249.0 238.0,251.8" fill="#c0a060"/><polygon points="239.0,246.0 241.2,245.4 241.4,249.3 239.1,250.0" fill="#d09050"/></g>
  <polygon points="258.5,214.5 289.7,218 291,244.7 261.8,249.8" fill="#f4f4f4"/>
  <polygon points="260,216 288.5,219.5 289.5,243.5 262.5,248" fill="#8e6e48"/>
  <g><polygon points="260.6,216.7 269.0,217.7 269.6,226.3 261.3,226.0" fill="#b89068"/><polygon points="263.9,219.4 266.1,219.6 266.4,222.6 264.1,222.5" fill="#d8c8b0"/><polygon points="261.4,227.3 269.6,227.5 270.2,236.2 262.2,236.7" fill="#403020"/><polygon points="262.3,237.9 270.3,237.3 270.9,246.0 263.0,247.3" fill="#f0e8e0"/><polygon points="267.5,240.5 269.7,240.3 269.9,243.3 267.8,243.5" fill="#d8c8b0"/><polygon points="270.1,217.8 278.5,218.8 278.9,226.7 270.7,226.4" fill="#a86a4a"/><polygon points="270.3,218.4 272.6,218.6 272.8,221.5 270.5,221.3" fill="#a86a4a"/><polygon points="270.8,227.5 279.0,227.7 279.4,235.6 271.3,236.1" fill="#c8a070"/><polygon points="274.0,231.7 276.2,231.7 276.4,234.4 274.2,234.5" fill="#c0a060"/><polygon points="271.4,237.3 279.5,236.7 279.9,244.6 272.0,245.8" fill="#d8c8b0"/><polygon points="274.8,238.0 277.0,237.8 277.2,240.6 275.0,240.8" fill="#a06848"/><polygon points="279.6,218.9 288.0,219.9 288.3,227.0 280.0,226.7" fill="#3a2a20"/><polygon points="280.1,227.8 288.3,228.0 288.6,235.1 280.5,235.5" fill="#d8c8b0"/><polygon points="283.4,229.4 285.6,229.4 285.7,231.9 283.5,231.9" fill="#b89068"/><polygon points="280.6,236.6 288.6,236.0 288.9,243.1 281.0,244.4" fill="#a06848"/><polygon points="285.1,240.1 287.3,239.8 287.4,242.3 285.2,242.6" fill="#3a2a20"/></g>
  <!-- windows -->
  <g fill="#8eb4e4">
    <polygon points="306,221 321,223 321,237 306,238"/>
    <polygon points="325,224 334,225.5 334,235 325,236"/>
    <polygon points="338,226 345,227 345,234 338,235"/>
  </g>
  <g stroke="#3a5a9a" stroke-width="0.6">
    <line x1="311" y1="222" x2="311" y2="237.5"/><line x1="316" y1="222.5" x2="316" y2="237.2"/><line x1="306" y1="229.5" x2="321" y2="229.8"/>
    <line x1="329.5" y1="225" x2="329.5" y2="235.5"/><line x1="325" y1="230" x2="334" y2="230"/>
  </g>
  <!-- floor / desk light blue -->
  <polygon points="215,272 346,244 346,244 333,250 300,278 278,319 215,319" fill="#0c2870"/>
  <polygon points="215,298 250,284 276,274 298,264 320,255 346,244 333,250 300,278 278,319 215,319" fill="#6aa2e0"/>
  <polygon points="215,304 252,296 276,290 284,300 278,319 215,319" fill="#9cc4ee"/>
  <polygon points="300,262 346,243 346,246 333,251 318,258" fill="#8ab8ec"/>
  <!-- desk monitors -->
  <polygon points="216,271 237,262 251,291 227,305 216,300" fill="#9cc8f4" stroke="#d4e8fc" stroke-width="1"/>
  <polygon points="248,254 271,249 274,269 252,274" fill="#92c0f0" stroke="#cfe4fa" stroke-width="1"/>
  <polygon points="279,248 297,245 299,261 281,264" fill="#92c0f0" stroke="#cfe4fa" stroke-width="1"/>
  <polygon points="252,274 274,269 276,276 254,282" fill="#4a82d0"/>
  <polygon points="281,264 299,261 300,266 283,270" fill="#4a82d0"/>
  <!-- person 2 (back) -->
  <path d="M301.5,285 Q304,277 313,274 L320,274 Q327.5,276 327.5,280 Q327,285 319,286.5 L306,287 Q302,287 301.5,285 Z" fill="url(#suitG)" stroke="#0a0a0a" stroke-width="0.8"/>
  <polygon points="306.5,270 317,270 318,276 307,276.5" fill="#f6f6f6" stroke="#222" stroke-width="0.5"/>
  <path d="M300.5,259 Q300,263 299,266.5 L300.5,268 Q301,272.5 303,274.5 Q306.5,276 310,274.5 L311,269 L308.5,262.5 Z" fill="#f8f8f8" stroke="#222" stroke-width="0.6"/>
  <path d="M299,260 Q298.5,252.5 306,251.8 Q316,251.3 318.5,257 Q319.5,264 317,271 L311,272 Q311.5,268 311,265.5 Q311,262.5 308.5,262 L307.5,265 Q306,260.5 303.5,259.5 Q301,259 299,260 Z" fill="#0c0c0c"/>
  <ellipse cx="309.5" cy="265.8" rx="1.3" ry="2.3" fill="#f4f4f4" stroke="#111" stroke-width="0.5"/>
  <!-- person 1 (front) -->
  <path d="M272,310 Q276,300 288,297 L300,297 Q311,299 311.5,304 Q311,310 300,311.5 L280,312 Q274,312 272,310 Z" fill="url(#suitG)" stroke="#0a0a0a" stroke-width="0.9"/>
  <polygon points="286,292 298,292 299,299 286,299.5" fill="#f6f6f6" stroke="#222" stroke-width="0.5"/>
  <path d="M279,279 Q278.5,283 277.5,287 L279,289 Q279.5,294 282,296.5 Q286,298 291,296 L292,290 L289,283 Z" fill="#f8f8f8" stroke="#222" stroke-width="0.7"/>
  <path d="M277.5,280 Q277,272 286,271 Q297,270.5 299.5,277 Q301,285 298,292 L292,293 Q292.5,289 291.5,286 Q292,283 289,282.5 L288,286 Q286,281 283,279.5 Q280,279 277.5,280 Z" fill="#0c0c0c"/>
  <ellipse cx="290" cy="286.8" rx="1.5" ry="2.7" fill="#f4f4f4" stroke="#111" stroke-width="0.5"/>
</g>

<!-- Fiber switch -->
<g>
  <polygon points="334.8,236 348.4,225.3 380.4,226.3 368.3,237" fill="#d42434"/>
  <polygon points="334.8,236 368.3,237 368.3,250.5 334.8,249.6" fill="#d01c2c"/>
  <polygon points="368.3,237 380.4,226.3 380.4,241.3 368.3,250.5" fill="#b81424"/>
  <g fill="#f6e6e6">
    <polygon points="359,230 351,230.6 351,229.6 347.5,231.2 351,232.6 351,231.8 359,231.2"/>
    <polygon points="362,229.4 370,228.8 370,227.8 373.5,229.3 370,230.8 370,230 362,230.6"/>
    <polygon points="343,234.2 351,233.6 351,232.6 354.5,234.1 351,235.6 351,234.8 343,235.4"/>
    <polygon points="369,233.2 361,233.8 361,232.8 357.5,234.4 361,235.8 361,235 369,234.4"/>
  </g>
</g>

<!-- inset screenshot -->
<g>
  <rect x="37" y="228" width="107" height="70" fill="#d4d0c8"/>
  <rect x="37" y="228" width="107" height="2.5" fill="#2a5aa8"/>
  <rect x="38" y="231" width="105" height="2" fill="#ece9e0"/>
  <rect x="38" y="234" width="21" height="43" fill="#fafafa"/>
  <g fill="#5a7a5a"><rect x="40" y="236" width="8" height="1"/><rect x="42" y="239" width="10" height="1"/><rect x="42" y="242" width="8" height="1"/><rect x="42" y="245" width="10" height="1"/><rect x="42" y="248" width="6" height="1"/><rect x="42" y="251" width="9" height="1"/><rect x="42" y="254" width="7" height="1"/><rect x="42" y="257" width="10" height="1"/><rect x="42" y="260" width="8" height="1"/><rect x="42" y="263" width="9" height="1"/><rect x="42" y="266" width="6" height="1"/><rect x="42" y="269" width="10" height="1"/></g>
  <rect x="60" y="236" width="41" height="39" fill="#24847e"/>
  <rect x="60" y="236" width="41" height="1.5" fill="#9ab4d0"/>
  <g fill="#d0e4e4"><rect x="68" y="248" width="7" height="2"/><rect x="64" y="258" width="6" height="2"/><rect x="72" y="258" width="6" height="2"/><rect x="84" y="248" width="7" height="2"/><rect x="80" y="258" width="6" height="2"/><rect x="88" y="258" width="6" height="2"/></g>
  <rect x="73" y="257" width="3" height="3" fill="#d04030"/>
  <g stroke="#c8e0e0" stroke-width="0.5"><line x1="71" y1="250" x2="67" y2="258"/><line x1="71" y1="250" x2="75" y2="258"/><line x1="87" y1="250" x2="83" y2="258"/><line x1="87" y1="250" x2="91" y2="258"/></g>
  <rect x="102" y="236" width="38" height="39" fill="#f0ecd8"/>
  <rect x="102" y="236" width="38" height="1.5" fill="#9ab4d0"/>
  <polyline points="104,272 110,268 114,246 117,268 120,258 123,266 127,262 138,262" fill="none" stroke="#7a7a9a" stroke-width="0.6"/>
  <rect x="38" y="279" width="103" height="15" fill="#0c0c0c"/>
  <g fill="#8a8a8a" opacity="0.7"><rect x="42" y="282" width="40" height="1"/><rect x="84" y="282" width="50" height="1"/><rect x="42" y="286" width="40" height="1"/><rect x="84" y="286" width="50" height="1"/><rect x="42" y="290" width="40" height="1"/><rect x="84" y="290" width="50" height="1"/></g>
</g>

<!-- ============ DEVICES ============ -->
<use href="#boxcam" x="18" y="39"/>
<use href="#bulcam" x="176" y="123"/>
<use href="#boxcam" x="372" y="38"/>
<use href="#bulcam" x="533" y="55"/>
<use href="#boxcam" x="386" y="391"/>
<use href="#bulcam" x="519" y="392"/>

<use href="#sw" x="104" y="143"/>
<use href="#sw" x="552" y="132"/>
<use href="#sw" x="24" y="339"/>
<use href="#sw" x="149" y="340"/>
<use href="#sw" x="54" y="455"/>
<use href="#sw" x="193" y="455"/>
<use href="#sw" x="379" y="454"/>
<use href="#sw" x="551" y="454"/>

<!-- badges -->
<use href="#b1000" x="301" y="184"/>
<use href="#b100" x="482" y="234"/>
<use href="#b1000" x="356" y="362"/>
<use href="#b100" x="108.5" y="358"/>
<use href="#b100" x="36" y="436.5"/>
<use href="#b100" x="142" y="498"/>
<use href="#b1000" x="298.5" y="498"/>
<use href="#b1000" x="487" y="498"/>

<!-- ============ TEXT ============ -->
<text class="cam" x="22" y="31.8">IP Camera</text>
<text class="cam" x="186" y="172.7">IP Camera</text>
<text class="cam" x="375.5" y="31.6">IP Camera</text>
<text class="cam" x="535" y="48">IP Camera</text>
<text class="cam" x="383" y="384.7">IP Camera</text>
<text class="cam" x="511" y="384.4">IP Camera</text>
<text class="cam" x="376" y="258.2">Fiber</text>
<text class="cam" x="376" y="269.6">Switch</text>

<text class="igs" x="26.5" y="196.2">IGS-10020M</text>
<text class="igs" x="475.5" y="192.8">IGS-10020M</text>
<text class="igs" x="70" y="382.8">IGS-10020M</text>
<text class="igs" x="108" y="514.3">IGS-10020M</text>
<text class="igs" x="416.4" y="516">IGS-10020M</text>
<text class="igs" x="520.4" y="524.6">IGS-10020M</text>

<text class="km" x="288" y="172.7">70km</text>
<text class="km" x="465.4" y="223.3">40km</text>
<text class="km" x="361.7" y="303.3">70km</text>
<text class="km" x="92.8" y="347.2">20km</text>
<text class="km" x="46" y="438.5">30km</text>
<text class="km" x="126" y="488">30km</text>
<text class="km" x="284" y="485.5">120km</text>
<text class="km" x="475" y="488.7">30km</text>

<!-- ============ LEGEND ============ -->
<rect x="379.4" y="550" width="229.9" height="53" rx="4" fill="none" stroke="#6e6e6e" stroke-width="2.2" stroke-dasharray="5.8,5"/>
<line x1="390" y1="563" x2="465" y2="563" stroke="#c8307a" stroke-width="2"/>
<line x1="390" y1="577.5" x2="465" y2="577.5" stroke="#a82040" stroke-width="2"/>
<line x1="390" y1="592" x2="465" y2="592" stroke="#44acd2" stroke-width="2"/>
<use href="#b100" x="426.5" y="563"/>
<use href="#b1000" x="426.5" y="577.5"/>
<text class="lg" x="475.7" y="565.6" fill="#c42a7c">100Base-FX Fiber-optic</text>
<text class="lg" x="475.7" y="580.3" fill="#a21c34">1000Base-SX/LX Fiber-optic</text>
<text class="lg" x="475.7" y="595" fill="#3aa8cc">100Base-TX UTP</text>
<rect x="0" y="614" width="2" height="1" fill="#3a3a22"/><rect x="2" y="614" width="1.5" height="1" fill="#1a1a30"/>
</svg>
</body></html>
